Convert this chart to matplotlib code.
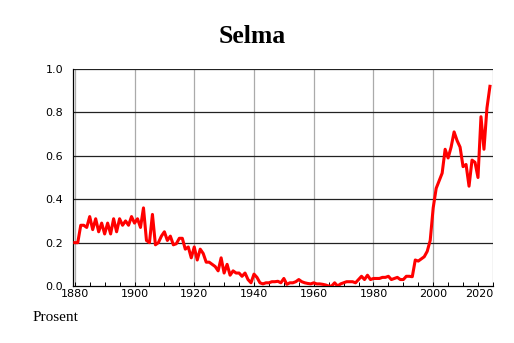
import matplotlib.pyplot as plt
import numpy as np

# Share of name usage (Prosent) per year
years = np.arange(1880, 2020)
values = [
    0.20, 0.20, 0.28, 0.28, 0.27, 0.32, 0.26, 0.31, 0.25, 0.29,   # 1880s
    0.24, 0.29, 0.24, 0.31, 0.25, 0.31, 0.28, 0.30, 0.28, 0.32,   # 1890s
    0.29, 0.31, 0.27, 0.36, 0.21, 0.20, 0.33, 0.19, 0.20, 0.23,   # 1900s
    0.25, 0.21, 0.23, 0.19, 0.195, 0.22, 0.22, 0.17, 0.18, 0.13,  # 1910s
    0.18, 0.12, 0.17, 0.15, 0.11, 0.11, 0.10, 0.09, 0.07, 0.13,   # 1920s
    0.06, 0.10, 0.05, 0.07, 0.06, 0.06, 0.045, 0.06, 0.03, 0.015, # 1930s
    0.055, 0.04, 0.015, 0.01, 0.015, 0.015, 0.02, 0.02, 0.022, 0.015,  # 1940s
    0.035, 0.008, 0.015, 0.015, 0.02, 0.03, 0.02, 0.015, 0.012, 0.01,  # 1950s
    0.015, 0.01, 0.01, 0.008, 0.005, 0.0, 0.0, 0.015, 0.0, 0.01,      # 1960s
    0.015, 0.02, 0.02, 0.02, 0.015, 0.03, 0.045, 0.03, 0.05, 0.03,    # 1970s
    0.035, 0.035, 0.035, 0.04, 0.04, 0.045, 0.03, 0.035, 0.04, 0.03,  # 1980s
    0.03, 0.045, 0.045, 0.043, 0.12, 0.115, 0.125, 0.135, 0.16, 0.21, # 1990s
    0.36, 0.45, 0.485, 0.52, 0.63, 0.59, 0.64, 0.71, 0.67, 0.64,      # 2000s
    0.55, 0.56, 0.46, 0.58, 0.57, 0.50, 0.78, 0.63, 0.82, 0.92,       # 2010s
]
x_ticks = [1880, 1900, 1920, 1940, 1960, 1980, 2000, 2020]
y_ticks = [0.0, 0.2, 0.4, 0.6, 0.8, 1.0]

fig = plt.figure(figsize=(5.14, 3.43), dpi=100)
ax = fig.add_axes([0.142, 0.166, 0.817, 0.633])

for xt in x_ticks:
    ax.axvline(xt, color="#aaaaaa", lw=0.9, zorder=1)
for yt in y_ticks[1:]:
    ax.axhline(yt, color="#222222", lw=0.9, zorder=1)

ax.plot(years, values, color="#ff0000", lw=2.2, zorder=3)

ax.set_xlim(1879.4, 2020)
ax.set_ylim(0, 1.0)
ax.set_xticks(x_ticks)
ax.set_xticks(np.arange(1885, 2020, 5), minor=True)
ax.set_yticks(y_ticks)
ax.set_yticklabels([f"{v:.1f}" for v in y_ticks])
ax.tick_params(axis="x", which="both", direction="in", length=3, width=0.7,
               labelsize=8, pad=2)
ax.tick_params(axis="y", length=0, labelsize=8, pad=7)

labels = ax.get_xticklabels()
labels[-1].set_horizontalalignment("right")

for side in ["top", "right"]:
    ax.spines[side].set_visible(False)
ax.spines["left"].set_linewidth(0.9)
ax.spines["bottom"].set_linewidth(0.9)

fig.text(0.49, 0.895, "Selma", ha="center", va="center", fontsize=18.5,
         fontweight="bold", family="Liberation Serif")
fig.text(0.064, 0.073, "Prosent", ha="left", va="center", fontsize=11,
         family="Liberation Serif")

fig.savefig("out.png", dpi=100)
